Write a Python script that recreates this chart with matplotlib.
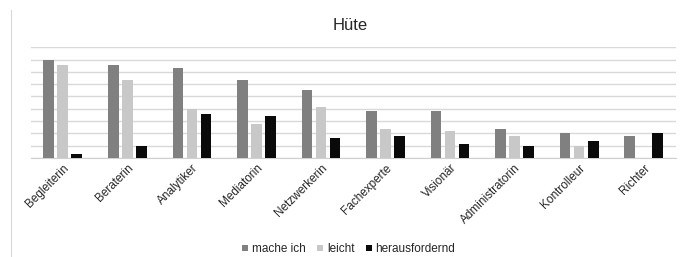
from matplotlib import pyplot as plt
import numpy as np

plt.rcParams['font.family'] = ['Liberation Sans', 'DejaVu Sans']

categories = ['Begleiterin', 'Beraterin', 'Analytiker', 'Mediatorin', 'Netzwerkerin',
              'Fachexperte', 'Visionär', 'Administratorin', 'Kontrolleur', 'Richter']
mache_ich = [7.95, 7.55, 7.35, 6.35, 5.55, 3.8, 3.8, 2.35, 2.0, 1.8]
leicht = [7.55, 6.35, 4.0, 2.75, 4.15, 2.35, 2.15, 1.8, 1.0, 0.0]
herausfordernd = [0.35, 1.0, 3.6, 3.4, 1.6, 1.8, 1.15, 1.0, 1.4, 2.0]

fig = plt.figure(figsize=(6.84, 2.57), dpi=100)
ax = fig.add_axes([0.0446, 0.386, 0.9437, 0.430])

x = np.arange(len(categories))
w = 0.165
off = 0.217
ax.bar(x - off, mache_ich, w, color='#808080', label='mache ich', zorder=3)
ax.bar(x, leicht, w, color='#c8c8c8', label='leicht', zorder=3)
ax.bar(x + off, herausfordernd, w, color='#0a0a0a', label='herausfordernd', zorder=3)

ax.set_xlim(-0.5, len(categories) - 0.5)
ax.set_ylim(0, 9)
ax.set_yticks(np.arange(0, 10, 1))
ax.yaxis.grid(True, color='#d9d9d9', linewidth=1.0, zorder=0)
ax.tick_params(axis='y', left=False, labelleft=False)
ax.tick_params(axis='x', length=0, pad=3)
ax.set_xticks(x)
ax.set_xticklabels(categories, rotation=45, ha='right', rotation_mode='anchor',
                   fontsize=8.5, color='#262626')
for s in ['top', 'left', 'right']:
    ax.spines[s].set_visible(False)
ax.spines['bottom'].set_color('#d0d0d0')

fig.text(0.512, 0.90, 'Hüte', ha='center', va='center', fontsize=12, color='#262626')

fig.legend(loc='center', bbox_to_anchor=(0.51, 0.03), ncol=3, frameon=False,
           fontsize=8.5, handlelength=0.5, handleheight=0.5, handletextpad=0.3,
           columnspacing=1.0, labelcolor='#262626')

fig.add_artist(plt.Line2D([11 / 684, 11 / 684], [0, 1 - 10 / 257],
                          color='#d9d9d9', linewidth=0.8, transform=fig.transFigure))

fig.savefig('out.png', dpi=100)
